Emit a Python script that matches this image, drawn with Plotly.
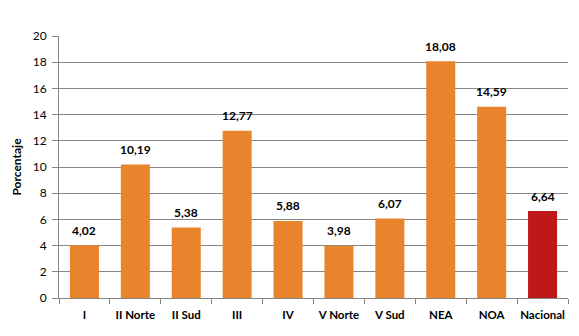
import plotly.graph_objects as go

categories = ["I", "II Norte", "II Sud", "III", "IV", "V Norte", "V Sud", "NEA", "NOA", "Nacional"]
values = [4.02, 10.19, 5.38, 12.77, 5.88, 3.98, 6.07, 18.08, 14.59, 6.64]
bar_colors = ["#E8842B"] * 9 + ["#C01818"]
y_ticks = [0, 2, 4, 6, 8, 10, 12, 14, 16, 18, 20]

labels = [f"{v:.2f}".replace(".", ",") for v in values]

fig = go.Figure()
fig.add_trace(go.Bar(
    x=categories, y=values,
    marker=dict(color=bar_colors, line=dict(width=0)),
    hoverinfo="skip",
))

for c, v, t in zip(categories, values, labels):
    fig.add_annotation(x=c, y=v, text=f"<b>{t}</b>", showarrow=False,
                       yshift=15, font=dict(family="Lato", size=12, color="#000000"))

fig.update_layout(
    width=579, height=336,
    margin=dict(l=59, r=11, t=36, b=38),
    paper_bgcolor="white", plot_bgcolor="white",
    bargap=0.43,
    showlegend=False,
    font=dict(family="Lato", size=12, color="#000000"),
)
fig.update_xaxes(
    type="category", automargin=False, tickangle=0,
    showline=True, linecolor="#868686", linewidth=1,
    ticks="outside", tickson="boundaries", ticklen=5, tickcolor="#868686",
    tickfont=dict(family="Lato", size=11.5, color="#000000", weight="bold"),
    ticklabelstandoff=6,
    showgrid=False,
)
fig.update_yaxes(
    range=[0, 20], tickvals=y_ticks, automargin=False,
    showline=True, linecolor="#868686", linewidth=1,
    ticks="outside", ticklen=6, tickcolor="#868686",
    showgrid=True, gridcolor="#868686", gridwidth=1,
    zeroline=False,
    tickfont=dict(family="Lato", size=12, color="#000000"),
    ticklabelstandoff=3,
    title=dict(text="Porcentaje", font=dict(family="Lato", size=12, color="#000000", weight="bold"), standoff=8),
)

fig.write_html("out.html")
